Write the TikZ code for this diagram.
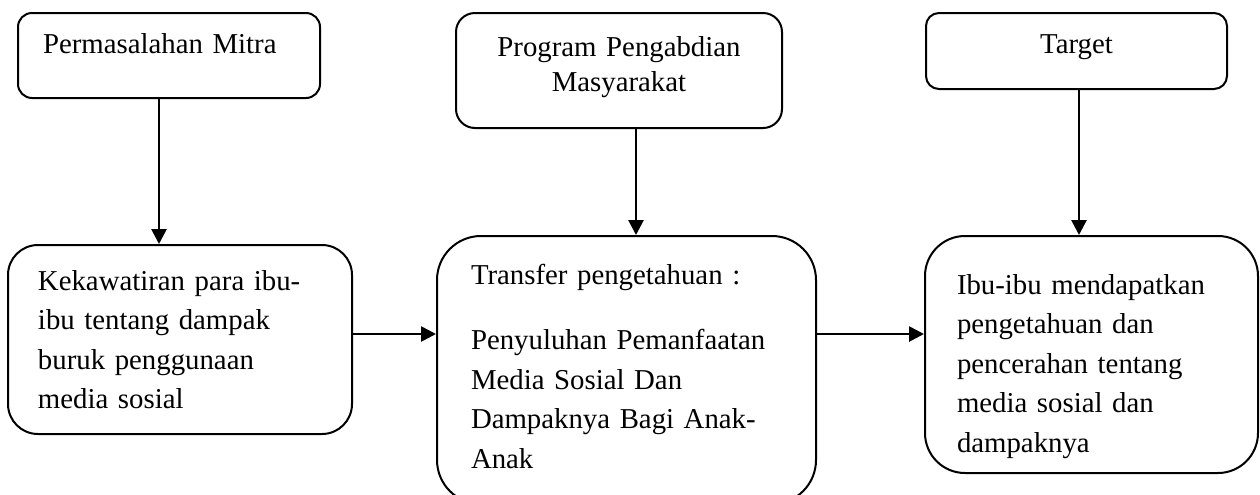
\documentclass[tikz,border=0pt]{standalone}
\usepackage{fontspec}
\setmainfont{Liberation Serif}
\usetikzlibrary{arrows.meta,positioning}
\tikzstyle{block} = [draw,line width=1pt,rectangle,anchor=north,inner ysep=0pt,font=\fontsize{14.4}{19.75}\selectfont]
\tikzstyle{link} = [-{Triangle[length=7.5pt,width=7.5pt]},line width=1.35pt]
\def \lift {2.75pt}

\begin{document}
\begin{tikzpicture}
  \useasboundingbox (0,0) rectangle (630pt,-247pt);
  % top row
  \node[block,rounded corners=7pt,minimum width=151pt,minimum height=42.5pt,inner xsep=12.5pt,
        text width=126pt,align=left,text height=10pt,text depth=12.5pt] (mitra) at (84.5pt,-6pt) {Permasalahan Mitra};
  \node[block,rounded corners=9.5pt,minimum height=57.5pt,inner xsep=10pt,text width=143pt,align=center,
        font=\fontsize{14.4}{17.5}\selectfont,text height=10pt,text depth=24.5pt] (program) at (309.5pt,-6pt) {Program Pengabdian\\Masyarakat};
  \node[block,rounded corners=6.5pt,minimum height=38pt,inner xsep=10pt,text width=130.5pt,align=center,
        text height=10pt,text depth=8pt] (target) at (538.25pt,-6pt) {Target};
  % bottom row
  \node[block,rounded corners=15pt,minimum height=94.5pt,inner xsep=15pt,text width=142pt,align=left,
        text height=9.75pt,text depth=59.25pt] (masalah) at (90pt,-122pt) {Kekawatiran para ibu-\\ibu tentang dampak\\buruk penggunaan\\media sosial};
  \node[block,rounded corners=22pt,minimum height=134pt,inner xsep=17pt,text width=155.5pt,align=left,
        text height=10pt,text depth=96pt] (transfer) at (313.25pt,-117.5pt) {Transfer pengetahuan :\\[13pt]Penyuluhan Pemanfaatan\\Media Sosial Dan\\Dampaknya Bagi Anak-\\Anak};
  \node[block,rounded corners=20pt,minimum height=118.5pt,inner xsep=16pt,text width=134.5pt,align=left,
        text height=21.5pt,text depth=82pt] (hasil) at (545.75pt,-117.5pt) {Ibu-ibu mendapatkan\\pengetahuan dan\\pencerahan tentang\\media sosial dan\\dampaknya};
  % arrows
  \draw[link] ([xshift=-5pt]mitra.south) -- ([xshift=-5pt]mitra.south |- masalah.north);
  \draw[link] ([xshift=8.5pt]program.south) -- ([xshift=8.5pt]program.south |- transfer.north);
  \draw[link] ([xshift=1.25pt]target.south) -- ([xshift=1.25pt]target.south |- hasil.north);
  \coordinate (lvl) at ([yshift=\lift]masalah.east);
  \draw[link] (lvl) -- (lvl -| transfer.west);
  \draw[link] (lvl -| transfer.east) -- (lvl -| hasil.west);
\end{tikzpicture}
\end{document}
